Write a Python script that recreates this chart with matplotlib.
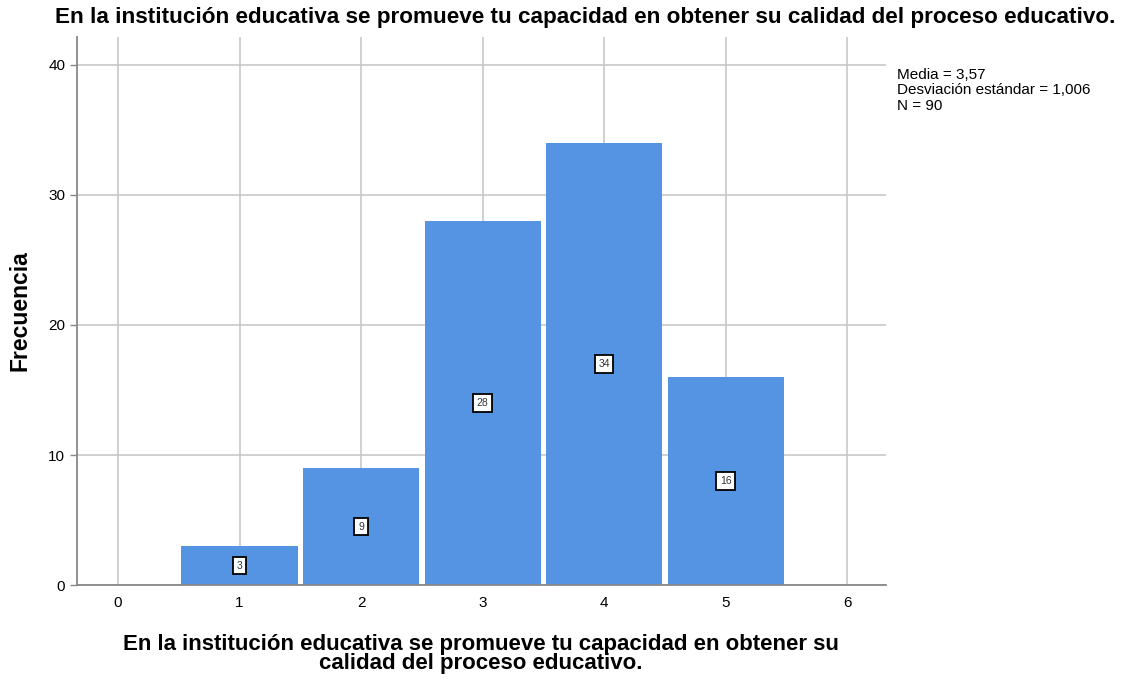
import numpy as np
import matplotlib.pyplot as plt

plt.rcParams['font.family'] = ['Liberation Sans', 'DejaVu Sans']

# data
valores = [1, 2, 3, 4, 5]
frecuencias = [3, 9, 28, 34, 16]
ticks_x = [0, 1, 2, 3, 4, 5, 6]
ticks_y = [0, 10, 20, 30, 40]
titulo = "En la institución educativa se promueve tu capacidad en obtener su calidad del proceso educativo."
etiqueta_x = "En la institución educativa se promueve tu capacidad en obtener su\ncalidad del proceso educativo."
resumen = "Media = 3,57\nDesviación estándar = 1,006\nN = 90"

fig = plt.figure(figsize=(11.26, 6.79), dpi=100)
ax = fig.add_axes([0.0684, 0.1384, 0.7185, 0.8071])

ax.set_axisbelow(True)
ax.grid(True, color='#c8c8c8', linewidth=1.2)
ax.bar(valores, frecuencias, width=0.955, color='#5494e3', edgecolor='none', zorder=2)

# value boxes at mid height
for v, f in zip(valores, frecuencias):
    ax.text(v, f / 2, str(f), ha='center', va='center', fontsize=7.5, color='#333333',
            bbox=dict(boxstyle='square,pad=0.35', facecolor='white', edgecolor='black', linewidth=1.3),
            zorder=3)

ax.set_xlim(-0.337, 6.32)
ax.set_ylim(0, 42.15)
ax.set_xticks(ticks_x)
ax.set_yticks(ticks_y)
ax.tick_params(labelsize=11, length=5, color='#888888', width=1)
ax.tick_params(axis='x', length=0, pad=8)
for s in ['top', 'right']:
    ax.spines[s].set_visible(False)
for s in ['left', 'bottom']:
    ax.spines[s].set_color('#888888')
    ax.spines[s].set_linewidth(1.3)

fig.text(0.0178, 0.543, 'Frecuencia', rotation=90, ha='center', va='center',
         fontsize=16.5, fontweight='bold')
fig.text(0.427, 0.037, etiqueta_x, ha='center', va='center', fontsize=16,
         fontweight='bold', linespacing=0.9)

fig.text(0.52, 0.9735, titulo, ha='center', va='center', fontsize=16.2, fontweight='bold')
fig.text(0.797, 0.9, resumen, ha='left', va='top', fontsize=11, linespacing=1.12)

fig.savefig('out.png', dpi=100)
